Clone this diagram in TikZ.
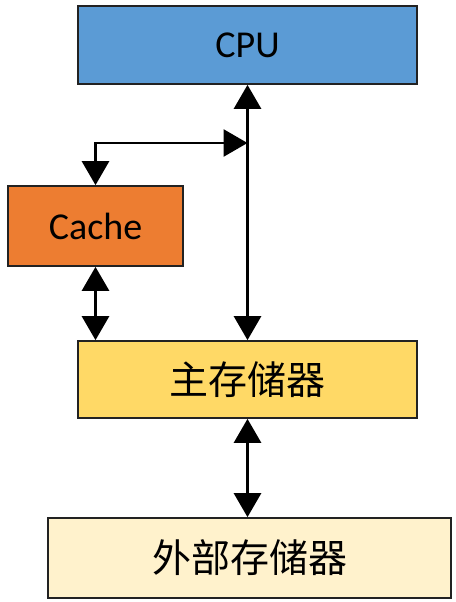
\documentclass[tikz,border=0pt]{standalone}
\usepackage{fontspec}
\setmainfont{Carlito}
\newfontfamily\cjk{Noto Sans CJK SC}
\usetikzlibrary{arrows.meta}
\definecolor{cpublue}{HTML}{5B9BD5}
\definecolor{cacheorange}{HTML}{ED7D31}
\definecolor{mainyellow}{HTML}{FFD966}
\definecolor{extyellow}{HTML}{FFF2CC}
\definecolor{edge}{HTML}{222222}
\tikzset{
  box/.style={draw=edge, line width=1.7pt, inner sep=0pt, text=black},
  conn/.style={line width=2.8pt, black, {Triangle[length=24pt,width=27pt]}-{Triangle[length=24pt,width=27pt]}},
  latin/.style={font=\fontsize{38}{44}\selectfont},
  han/.style={font=\cjk\fontsize{39}{46}\selectfont},
}
\begin{document}
\begin{tikzpicture}[x=1pt,y=-1pt]
\useasboundingbox (0,0) rectangle (455,602);
\node[box, latin, fill=cpublue, minimum width=339pt, minimum height=78pt] (cpu) at (247.5,45) {CPU};
\node[box, latin, fill=cacheorange, minimum width=175pt, minimum height=80pt] (cache) at (95.5,226) {Cache};
\node[box, han, fill=mainyellow, minimum width=339pt, minimum height=77pt] (main) at (247.5,379.5) {主存储器};
\node[box, han, fill=extyellow, minimum width=403pt, minimum height=80pt] (ext) at (249.5,558) {外部存储器};
\coordinate (j) at (247.5,143);
\draw[conn] (cpu.south) -- (main.north);
\draw[conn] (j) -| (cache.north);
\draw[conn] (cache.south) -- (cache.south |- main.north);
\draw[conn] (main.south) -- (main.south |- ext.north);
\end{tikzpicture}
\end{document}
